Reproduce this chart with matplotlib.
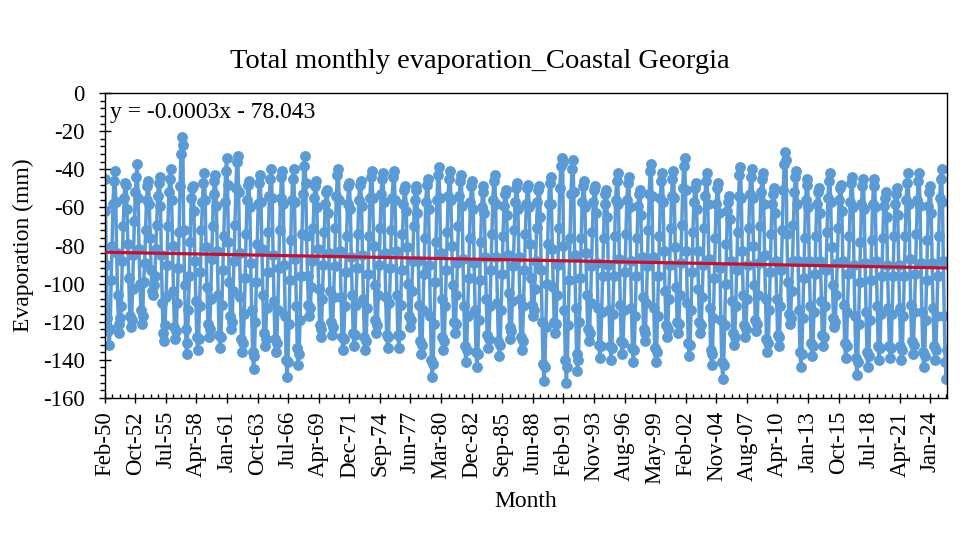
import numpy as np
import pandas as pd
import matplotlib
matplotlib.use("Agg")
import matplotlib.pyplot as plt
import matplotlib.dates as mdates
from matplotlib.ticker import MultipleLocator, FixedLocator

plt.rcParams["font.family"] = ["Liberation Serif", "DejaVu Serif"]
plt.rcParams["axes.unicode_minus"] = False

# monthly evaporation (mm), one row per year, series starts Feb 1950
first_month = "1950-02-01"

evap_1950s = [
    [-45, -62, -90, -118, -125, -132, -124, -98, -80, -58, -46],
    [-41, -57, -84, -106, -121, -126, -118, -112, -88, -70, -55, -47],
    [-48, -61, -79, -97, -117, -123, -119, -103, -85, -67, -52, -44],
    [-37, -55, -82, -100, -114, -121, -117, -99, -89, -72, -56, -49],
    [-46, -58, -76, -93, -104, -106, -101, -96, -82, -69, -54, -47],
    [-44, -59, -85, -110, -126, -130, -122, -107, -90, -70, -52, -45],
    [-40, -56, -80, -104, -123, -129, -125, -110, -92, -73, -49, -32],
    [-23, -27, -72, -101, -124, -137, -131, -114, -96, -78, -55, -50],
    [-49, -62, -88, -109, -128, -135, -129, -112, -94, -72, -57, -47],
    [-42, -56, -81, -102, -121, -128, -124, -108, -87, -70, -53, -46],
]
evap_1960s = [
    [-43, -59, -83, -106, -127, -134, -128, -111, -93, -75, -57, -41],
    [-34, -48, -78, -99, -117, -124, -120, -104, -88, -69, -50, -36],
    [-33, -52, -84, -107, -129, -136, -131, -116, -97, -74, -56, -48],
    [-46, -60, -89, -114, -136, -145, -138, -120, -99, -79, -58, -47],
    [-43, -57, -82, -106, -126, -133, -129, -113, -94, -73, -54, -45],
    [-40, -55, -85, -109, -129, -136, -131, -114, -92, -72, -55, -44],
    [-41, -58, -90, -117, -140, -149, -141, -121, -98, -77, -56, -45],
    [-40, -57, -87, -112, -134, -143, -137, -119, -96, -74, -53, -38],
    [-33, -47, -75, -96, -111, -117, -113, -102, -88, -71, -55, -49],
    [-46, -60, -82, -103, -122, -128, -124, -108, -90, -73, -58, -52],
]
evap_1970s = [
    [-51, -63, -84, -104, -120, -127, -123, -107, -91, -71, -54, -43],
    [-40, -56, -83, -107, -128, -135, -129, -112, -94, -75, -58, -49],
    [-47, -61, -86, -106, -126, -133, -127, -111, -92, -74, -56, -48],
    [-46, -59, -85, -108, -128, -135, -130, -113, -95, -75, -55, -44],
    [-41, -55, -80, -101, -119, -126, -122, -106, -90, -71, -53, -45],
    [-42, -57, -84, -107, -127, -134, -128, -110, -92, -72, -55, -44],
    [-41, -56, -83, -106, -127, -134, -127, -111, -93, -74, -58, -51],
    [-49, -62, -81, -100, -117, -123, -119, -104, -88, -70, -56, -51],
    [-49, -63, -88, -111, -130, -137, -132, -114, -95, -76, -57, -48],
    [-45, -61, -90, -117, -140, -149, -142, -121, -99, -78, -56, -43],
]
evap_1980s = [
    [-39, -55, -84, -108, -128, -135, -130, -112, -93, -73, -54, -45],
    [-41, -56, -80, -101, -120, -126, -121, -106, -89, -70, -54, -46],
    [-43, -59, -87, -112, -133, -141, -135, -117, -97, -76, -57, -49],
    [-46, -61, -89, -114, -136, -144, -137, -119, -98, -78, -60, -52],
    [-49, -63, -86, -108, -127, -134, -129, -112, -93, -74, -56, -46],
    [-43, -58, -86, -110, -130, -138, -132, -114, -95, -75, -59, -53],
    [-51, -64, -85, -105, -123, -129, -125, -109, -91, -72, -57, -50],
    [-47, -61, -86, -108, -128, -135, -130, -112, -93, -74, -58, -50],
    [-48, -60, -79, -97, -111, -117, -114, -103, -88, -71, -57, -51],
    [-49, -65, -93, -120, -142, -151, -144, -123, -100, -79, -58, -47],
]
evap_1990s = [
    [-44, -58, -82, -102, -120, -126, -121, -106, -90, -71, -50, -38],
    [-34, -36, -80, -114, -140, -152, -144, -122, -98, -76, -53, -40],
    [-35, -52, -85, -113, -137, -146, -140, -120, -97, -76, -57, -49],
    [-46, -60, -84, -106, -124, -130, -126, -110, -91, -73, -57, -51],
    [-49, -63, -89, -113, -132, -139, -133, -115, -96, -76, -58, -53],
    [-51, -65, -90, -114, -133, -140, -134, -116, -96, -75, -56, -46],
    [-42, -58, -87, -111, -130, -137, -131, -114, -94, -74, -56, -47],
    [-44, -60, -88, -113, -134, -141, -135, -117, -96, -76, -59, -53],
    [-51, -64, -86, -107, -124, -130, -126, -110, -91, -72, -53, -41],
    [-37, -54, -86, -113, -134, -141, -136, -117, -96, -75, -55, -46],
]
evap_2000s = [
    [-42, -57, -83, -104, -122, -128, -124, -108, -90, -71, -54, -45],
    [-41, -55, -81, -102, -120, -126, -121, -106, -89, -69, -50, -38],
    [-34, -51, -83, -110, -131, -138, -132, -114, -94, -73, -57, -50],
    [-47, -61, -83, -103, -120, -126, -122, -107, -90, -71, -54, -46],
    [-42, -58, -87, -113, -135, -143, -137, -118, -97, -76, -58, -50],
    [-47, -63, -92, -119, -141, -150, -143, -122, -100, -79, -62, -57],
    [-54, -66, -88, -109, -126, -132, -128, -112, -93, -73, -54, -43],
    [-39, -55, -83, -106, -122, -128, -124, -108, -90, -71, -53, -44],
    [-40, -55, -80, -101, -119, -125, -121, -106, -89, -70, -52, -45],
    [-42, -58, -85, -108, -129, -136, -131, -114, -94, -74, -58, -53],
]
evap_2010s = [
    [-50, -63, -88, -108, -127, -133, -128, -112, -93, -72, -51, -37],
    [-31, -35, -74, -99, -116, -121, -118, -104, -88, -69, -52, -44],
    [-41, -58, -88, -114, -136, -144, -137, -118, -97, -76, -56, -48],
    [-45, -60, -88, -112, -131, -138, -133, -115, -95, -75, -58, -52],
    [-50, -63, -88, -109, -127, -133, -128, -112, -93, -73, -55, -46],
    [-42, -57, -81, -101, -118, -123, -120, -106, -89, -71, -56, -50],
    [-48, -62, -88, -111, -131, -139, -133, -115, -95, -75, -57, -47],
    [-44, -60, -90, -117, -139, -148, -141, -121, -99, -78, -58, -49],
    [-45, -61, -89, -115, -136, -144, -138, -119, -98, -77, -58, -49],
    [-45, -60, -88, -112, -133, -140, -134, -116, -96, -76, -59, -55],
]
evap_2020s = [
    [-52, -65, -90, -113, -133, -139, -134, -116, -96, -75, -58, -53],
    [-50, -64, -90, -113, -133, -140, -135, -117, -96, -75, -56, -47],
    [-42, -58, -87, -111, -130, -137, -132, -115, -95, -74, -56, -46],
    [-42, -59, -89, -115, -136, -144, -138, -119, -98, -77, -59, -52],
    [-49, -63, -89, -113, -133, -140, -135, -117, -96, -75, -55, -45],
    [-40, -57, -88, -117, -141, -150, -135],
]

# linear trendline shown on the chart (x = Excel date serial)
trend_slope = -0.0003
trend_intercept = -78.043
trend_label = "y = -0.0003x - 78.043"

decades = [evap_1950s, evap_1960s, evap_1970s, evap_1980s,
           evap_1990s, evap_2000s, evap_2010s, evap_2020s]
evap = [v for block in decades for row in block for v in row]
dates = pd.date_range(first_month, periods=len(evap), freq="MS")
xnum = mdates.date2num(dates)

fig, ax = plt.subplots(figsize=(9.6, 5.48), dpi=100)
fig.subplots_adjust(left=0.109, right=0.9865, top=0.830, bottom=0.274)

ax.plot(xnum, evap, color="#5B9BD5", lw=2.5, marker="o", ms=6.8, zorder=2)

# excel serial = days since 1899-12-30
serial = xnum[[0, -1]] + 25569
ax.plot(xnum[[0, -1]], trend_slope * serial + trend_intercept,
        color="#C8102E", lw=2.3, zorder=3)

ax.set_xlim(xnum[0], xnum[-1])
ax.set_ylim(-160, 0)

ax.yaxis.set_major_locator(MultipleLocator(20))
ax.yaxis.set_minor_locator(MultipleLocator(4))
ax.xaxis.set_major_locator(FixedLocator(np.arange(xnum[0], xnum[-1] + 1, 1000)))
ax.xaxis.set_minor_locator(FixedLocator(np.arange(xnum[0], xnum[-1] + 1, 250)))
ax.xaxis.set_major_formatter(mdates.DateFormatter("%b-%y"))

ax.tick_params(axis="y", which="major", direction="inout", length=9, width=1,
               labelsize=16.5, pad=10)
ax.tick_params(axis="y", which="minor", direction="out", length=3.5, width=1)
ax.tick_params(axis="x", which="major", direction="inout", length=7, width=1,
               labelsize=16.5, pad=6, labelrotation=90)
ax.tick_params(axis="x", which="minor", direction="in", length=3, width=1)
for s in ax.spines.values():
    s.set_linewidth(1)
    s.set_color("black")

ax.set_xlabel("Month", fontsize=17)
ax.xaxis.set_label_coords(0.5, -0.305)
ax.set_ylabel("Evaporation (mm)", fontsize=17)
ax.yaxis.set_label_coords(-0.084, 0.5)

ax.text(0.006, 0.935, trend_label, transform=ax.transAxes, fontsize=17,
        va="center", ha="left")
fig.text(0.5, 0.888, "Total monthly evaporation_Coastal Georgia",
         fontsize=20.5, ha="center", va="center")

fig.savefig("out.png", dpi=100)
